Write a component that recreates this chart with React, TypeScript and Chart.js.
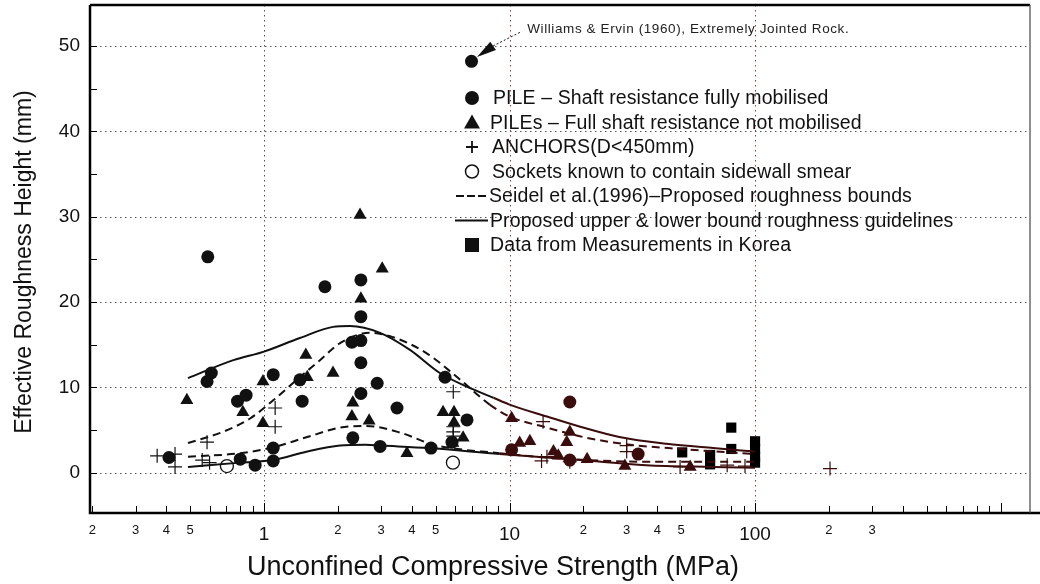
import React, { useEffect, useRef } from 'react';
import { Chart, registerables } from 'chart.js';

Chart.register(...registerables);

const FONT = '"Liberation Sans", Arial, Helvetica, sans-serif';
const INK = '#111111';
const MAROON = '#3a0c0c';

// ---- Data (x: UCS in MPa, y: effective roughness height in mm) ----
const pileFullX = [0.41, 0.59, 0.61, 0.586, 0.78, 0.845, 0.8, 0.92, 1.09, 1.09, 1.09, 1.4, 1.43, 1.77, 2.28, 2.48, 2.48, 2.48, 2.48, 2.48, 2.89, 3.48, 2.3, 2.97, 4.79, 5.46, 6.71, 5.83, 7.0, 17.6, 10.2, 17.6, 33.4];
const pileFullY = [1.8, 25.3, 11.7, 10.7, 8.4, 9.1, 1.6, 0.9, 1.4, 2.9, 11.5, 10.9, 8.4, 21.8, 15.3, 15.5, 22.6, 18.3, 12.9, 9.3, 10.5, 7.6, 4.1, 3.1, 2.9, 11.2, 6.2, 3.6, 48.2, 8.3, 2.7, 1.5, 2.2];

const pileNotX = [0.485, 0.82, 0.99, 0.99, 1.48, 1.5, 1.91, 2.46, 3.03, 2.48, 2.3, 2.28, 2.68, 3.82, 5.36, 5.94, 5.94, 6.47, 5.88, 10.2, 17.6, 17.1, 11.0, 12.1, 15.1, 15.8, 20.7, 29.5, 54.4];
const pileNotY = [8.5, 7.1, 5.8, 10.7, 13.8, 11.2, 11.7, 30.2, 23.9, 20.4, 8.2, 6.6, 6.1, 2.3, 7.1, 7.1, 5.9, 4.1, 3.5, 6.4, 4.8, 3.6, 3.5, 3.7, 2.5, 2.0, 1.6, 0.8, 0.7];

const anchorX = [0.367, 0.434, 0.434, 0.586, 0.56, 0.6, 1.11, 1.11, 5.9, 5.9, 5.9, 5.9, 13.7, 13.5, 14.2, 17.6, 30.0, 30.0, 49.5, 77, 91, 202];
const anchorY = [2.0, 2.2, 0.7, 3.6, 1.5, 1.2, 7.6, 5.4, 9.5, 5.4, 4.8, 4.3, 6.0, 1.4, 1.9, 1.3, 2.5, 3.2, 0.7, 0.9, 0.8, 0.5];

const smearX = [0.706, 5.88];
const smearY = [0.8, 1.2];

const koreaX = [50.5, 65.6, 65.6, 80, 80, 100, 100, 100, 100];
const koreaY = [2.4, 2.1, 1.0, 5.3, 2.8, 3.7, 2.8, 1.9, 1.2];

const upperSolidX = [0.49, 0.75, 1.0, 1.4, 1.91, 2.24, 2.97, 3.93, 5.2, 6.7, 8.6, 10, 14.2, 19.4, 28, 43.6, 67.5, 100];
const upperSolidY = [11.1, 13.2, 14.2, 15.8, 17.1, 17.2, 16.4, 14.4, 11.7, 10.1, 8.8, 8.0, 6.6, 5.4, 4.2, 3.4, 2.9, 2.5];

const lowerSolidX = [0.49, 0.8, 1.09, 1.5, 2.04, 2.6, 3.0, 4.7, 9.1, 19.4, 36, 67.5, 100];
const lowerSolidY = [0.7, 1.2, 1.5, 2.5, 3.2, 3.3, 3.2, 2.9, 2.2, 1.5, 0.9, 0.7, 0.6];

const upperDashX = [0.49, 0.68, 0.88, 1.09, 1.36, 1.69, 2.04, 2.7, 3.35, 4.6, 6.3, 8.3, 10, 14.2, 20.7, 31, 49.5, 100];
const upperDashY = [3.5, 4.8, 6.4, 8.5, 10.9, 13.2, 15.2, 16.4, 15.9, 14.0, 10.9, 8.0, 6.6, 5.3, 4.1, 3.3, 2.8, 2.2];

const lowerDashX = [0.49, 0.8, 1.09, 1.5, 2.04, 2.6, 3.6, 4.9, 9.1, 14.2, 36, 100];
const lowerDashY = [1.9, 2.3, 3.0, 4.2, 5.3, 5.5, 4.7, 3.3, 2.3, 1.8, 1.3, 1.3];

// ---- Axes ----
const xMin = 0.1955;
const xMax = 1318;
const yMin = -4.7;
const yMax = 54.8;
const xTickValues = [0.2, 0.3, 0.4, 0.5, 1, 2, 3, 4, 5, 10, 20, 30, 40, 50, 100, 200, 300];
const xTickLabels = ['2', '3', '4', '5', '1', '2', '3', '4', '5', '10', '2', '3', '4', '5', '100', '2', '3'];
const xMajorValues = [1, 10, 100];
const xGridValues = [1, 10, 100];
const yTickValues = [0, 10, 20, 30, 40, 50];
const yMinorStep = 5;
const xDecades = [0.1, 1, 10, 100, 1000];

const xTitle = 'Unconfined Compressive Strength (MPa)';
const yTitle = 'Effective Roughness Height (mm)';

const legendLabels = [
  'PILE \u2013 Shaft resistance fully mobilised',
  'PILEs \u2013 Full shaft resistance not mobilised',
  'ANCHORS(D<450mm)',
  'Sockets known to contain sidewall smear',
  'Seidel et al.(1996)\u2013Proposed roughness bounds',
  'Proposed upper & lower bound roughness guidelines',
  'Data from Measurements in Korea',
];

const noteText = 'Williams & Ervin (1960), Extremely Jointed Rock.';
const noteTip = { x: 7.37, y: 48.7 };
const noteBase = { x: 8.57, y: 50.0 };
const noteTail = { x: 11.03, y: 51.6 };
const noteLabel = { x: 11.8, y: 51.9 };

const pts = (xs: number[], ys: number[]) => xs.map((x, i) => ({ x, y: ys[i] }));
const markColor = (ctx: any) => {
  const raw = ctx.raw as { x: number } | undefined;
  return raw && raw.x >= 9.5 ? MAROON : INK;
};
const segColor = (ctx: any) => (ctx.p0.parsed.x >= 8 ? MAROON : INK);

const decorPlugin = {
  id: 'decor',
  beforeDatasetsDraw(chart: any) {
    const { ctx, chartArea: a, scales } = chart;
    const x = scales.x;
    const y = scales.y;
    ctx.save();
    ctx.lineWidth = 1;
    ctx.setLineDash([1.5, 3.5]);
    for (const v of yTickValues) {
      const py = Math.round(y.getPixelForValue(v)) + 0.5;
      ctx.strokeStyle = '#555';
      ctx.beginPath();
      ctx.moveTo(a.left, py);
      ctx.lineTo(a.right, py);
      ctx.stroke();
    }
    for (const v of xGridValues) {
      const px = Math.round(x.getPixelForValue(v)) + 0.5;
      ctx.strokeStyle = v >= 10 ? '#8a4444' : '#555';
      ctx.beginPath();
      ctx.moveTo(px, a.top);
      ctx.lineTo(px, a.bottom);
      ctx.stroke();
    }
    ctx.restore();
  },
  afterDatasetsDraw(chart: any) {
    const { ctx, chartArea: a, scales } = chart;
    const x = scales.x;
    const y = scales.y;
    ctx.save();
    ctx.strokeStyle = '#000';
    ctx.lineWidth = 1;
    for (const d of xDecades) {
      for (let k = 1; k <= 9; k++) {
        const v = d * k;
        if (v < xMin || v > xMax) continue;
        const px = Math.round(x.getPixelForValue(v)) + 0.5;
        const len = k === 1 ? 10 : 7;
        ctx.beginPath();
        ctx.moveTo(px, a.bottom);
        ctx.lineTo(px, a.bottom - len);
        ctx.stroke();
      }
    }
    for (let v = 0; v <= 50; v += yMinorStep) {
      const py = Math.round(y.getPixelForValue(v)) + 0.5;
      ctx.beginPath();
      ctx.moveTo(a.left, py);
      ctx.lineTo(a.left + 7, py);
      ctx.stroke();
    }
    ctx.lineWidth = 2.5;
    ctx.beginPath();
    ctx.moveTo(a.left, a.top);
    ctx.lineTo(a.right, a.top);
    ctx.moveTo(a.left, a.top);
    ctx.lineTo(a.left, a.bottom);
    ctx.lineTo(a.right + 10, a.bottom);
    ctx.stroke();
    ctx.lineWidth = 1.2;
    ctx.strokeStyle = '#444';
    ctx.beginPath();
    ctx.moveTo(a.right, a.top);
    ctx.lineTo(a.right, a.bottom);
    ctx.stroke();
    ctx.restore();
  },
  afterDraw(chart: any) {
    const { ctx, scales } = chart;
    const x = scales.x;
    const y = scales.y;
    ctx.save();
    ctx.fillStyle = INK;
    ctx.strokeStyle = INK;

    ctx.font = `27px ${FONT}`;
    ctx.textAlign = 'center';
    ctx.textBaseline = 'middle';
    ctx.fillText(xTitle, 493, 568);
    ctx.save();
    ctx.translate(25, 262);
    ctx.rotate(-Math.PI / 2);
    ctx.font = `23px ${FONT}`;
    ctx.fillText(yTitle, 0, 0);
    ctx.restore();

    const tip = { x: x.getPixelForValue(noteTip.x), y: y.getPixelForValue(noteTip.y) };
    const base = { x: x.getPixelForValue(noteBase.x), y: y.getPixelForValue(noteBase.y) };
    const tail = { x: x.getPixelForValue(noteTail.x), y: y.getPixelForValue(noteTail.y) };
    ctx.lineWidth = 1;
    ctx.setLineDash([2, 2]);
    ctx.beginPath();
    ctx.moveTo(base.x, base.y);
    ctx.lineTo(tail.x, tail.y);
    ctx.stroke();
    ctx.setLineDash([]);
    const dx = tip.x - base.x;
    const dy = tip.y - base.y;
    const len = Math.hypot(dx, dy);
    const nx = -dy / len;
    const ny = dx / len;
    ctx.beginPath();
    ctx.moveTo(tip.x, tip.y);
    ctx.lineTo(base.x + nx * 5, base.y + ny * 5);
    ctx.lineTo(base.x - nx * 5, base.y - ny * 5);
    ctx.closePath();
    ctx.fill();
    ctx.font = `13.5px ${FONT}`;
    ctx.textAlign = 'left';
    ctx.textBaseline = 'middle';
    (ctx as any).letterSpacing = '0.6px';
    ctx.fillStyle = '#222';
    ctx.fillText(noteText, x.getPixelForValue(noteLabel.x), y.getPixelForValue(noteLabel.y));
    (ctx as any).letterSpacing = '0px';
    ctx.fillStyle = INK;

    const mx = 472;
    const y0 = 98;
    const dyl = 24.5;
    ctx.font = `19.5px ${FONT}`;
    ctx.textBaseline = 'middle';
    ctx.textAlign = 'left';
    (ctx as any).letterSpacing = '0.1px';
    legendLabels.forEach((label, i) => {
      const ly = y0 + i * dyl;
      let tx = 493;
      ctx.fillStyle = INK;
      ctx.strokeStyle = INK;
      if (i === 0) {
        ctx.beginPath();
        ctx.arc(mx, ly, 7, 0, Math.PI * 2);
        ctx.fill();
      } else if (i === 1) {
        ctx.beginPath();
        ctx.moveTo(mx, ly - 8);
        ctx.lineTo(mx + 8, ly + 6);
        ctx.lineTo(mx - 8, ly + 6);
        ctx.closePath();
        ctx.fill();
        tx = 490;
      } else if (i === 2) {
        ctx.lineWidth = 1.8;
        ctx.beginPath();
        ctx.moveTo(mx - 6, ly);
        ctx.lineTo(mx + 6, ly);
        ctx.moveTo(mx, ly - 6);
        ctx.lineTo(mx, ly + 6);
        ctx.stroke();
        tx = 492;
      } else if (i === 3) {
        ctx.lineWidth = 1.5;
        ctx.beginPath();
        ctx.arc(mx, ly, 6.5, 0, Math.PI * 2);
        ctx.stroke();
        tx = 492;
      } else if (i === 4) {
        ctx.lineWidth = 2.2;
        ctx.beginPath();
        for (const s of [456, 467, 478]) {
          ctx.moveTo(s, ly);
          ctx.lineTo(s + 8, ly);
        }
        ctx.stroke();
        tx = 489;
      } else if (i === 5) {
        ctx.lineWidth = 2;
        ctx.beginPath();
        ctx.moveTo(455, ly);
        ctx.lineTo(488, ly);
        ctx.stroke();
        tx = 490;
      } else if (i === 6) {
        ctx.fillRect(mx - 7, ly - 7, 14, 14);
        tx = 490;
      }
      ctx.fillText(label, tx, ly + 1);
    });
    ctx.restore();
  },
};

export default function App() {
  const canvasRef = useRef<HTMLCanvasElement | null>(null);

  useEffect(() => {
    const canvas = canvasRef.current;
    if (!canvas) return;
    const lineDs = (label: string, xs: number[], ys: number[], dash: number[]) =>
      ({
        type: 'line',
        label,
        data: pts(xs, ys),
        borderColor: INK,
        borderWidth: 2,
        borderDash: dash,
        pointRadius: 0,
        cubicInterpolationMode: 'monotone',
        fill: false,
        segment: { borderColor: segColor },
      } as any);
    const chart = new Chart(canvas, {
      type: 'scatter',
      data: {
        datasets: [
          lineDs('upper solid', upperSolidX, upperSolidY, []),
          lineDs('lower solid', lowerSolidX, lowerSolidY, []),
          lineDs('upper dashed', upperDashX, upperDashY, [8, 5]),
          lineDs('lower dashed', lowerDashX, lowerDashY, [8, 5]),
          {
            label: legendLabels[0],
            data: pts(pileFullX, pileFullY),
            pointStyle: 'circle',
            pointRadius: 6.5,
            backgroundColor: markColor,
            borderWidth: 0,
          },
          {
            label: legendLabels[1],
            data: pts(pileNotX, pileNotY),
            pointStyle: 'triangle',
            pointRadius: 7.5,
            backgroundColor: markColor,
            borderWidth: 0,
          },
          {
            label: legendLabels[2],
            data: pts(anchorX, anchorY),
            pointStyle: 'cross',
            pointRadius: 7,
            borderColor: markColor,
            borderWidth: 1.2,
          },
          {
            label: legendLabels[3],
            data: pts(smearX, smearY),
            pointStyle: 'circle',
            pointRadius: 6.5,
            backgroundColor: '#ffffff',
            borderColor: INK,
            borderWidth: 1.3,
          },
          {
            label: legendLabels[6],
            data: pts(koreaX, koreaY),
            pointStyle: 'rect',
            pointRadius: 7.2,
            backgroundColor: '#000000',
            borderWidth: 0,
          },
        ],
      },
      options: {
        animation: false,
        responsive: false,
        maintainAspectRatio: false,
        devicePixelRatio: 1,
        layout: { autoPadding: false, padding: { top: 5, right: 10, left: 0, bottom: 0 } },
        plugins: {
          legend: { display: false },
          tooltip: { enabled: false },
        },
        scales: {
          x: {
            type: 'logarithmic',
            min: xMin,
            max: xMax,
            grid: { display: false, drawTicks: false },
            border: { display: false },
            afterBuildTicks: (s: any) => {
              s.ticks = xTickValues.map((v) => ({ value: v }));
            },
            afterFit: (s: any) => {
              s.height = 71;
              s.paddingLeft = 0;
              s.paddingRight = 0;
            },
            ticks: {
              autoSkip: false,
              maxRotation: 0,
              minRotation: 0,
              padding: 10,
              color: INK,
              callback: (_v: any, i: number) => xTickLabels[i] ?? '',
              font: (c: any) => ({
                family: FONT,
                size: c.tick && xMajorValues.includes(c.tick.value) ? 19 : 13,
              }),
            },
          } as any,
          y: {
            type: 'linear',
            min: yMin,
            max: yMax,
            grid: { display: false, drawTicks: false },
            border: { display: false },
            afterBuildTicks: (s: any) => {
              s.ticks = yTickValues.map((v) => ({ value: v }));
            },
            afterFit: (s: any) => {
              s.width = 90;
              s.paddingTop = 0;
              s.paddingBottom = 0;
            },
            ticks: {
              padding: 10,
              color: INK,
              font: { family: FONT, size: 19 },
              callback: (v: any) => String(v),
            },
          } as any,
        },
      },
      plugins: [decorPlugin],
    });
    return () => chart.destroy();
  }, []);

  return (
    <div style={{ position: 'absolute', left: 0, top: 0, width: 1040, height: 584, background: '#fff' }}>
      <canvas ref={canvasRef} width={1040} height={584} style={{ display: 'block', width: 1040, height: 584 }} />
    </div>
  );
}
